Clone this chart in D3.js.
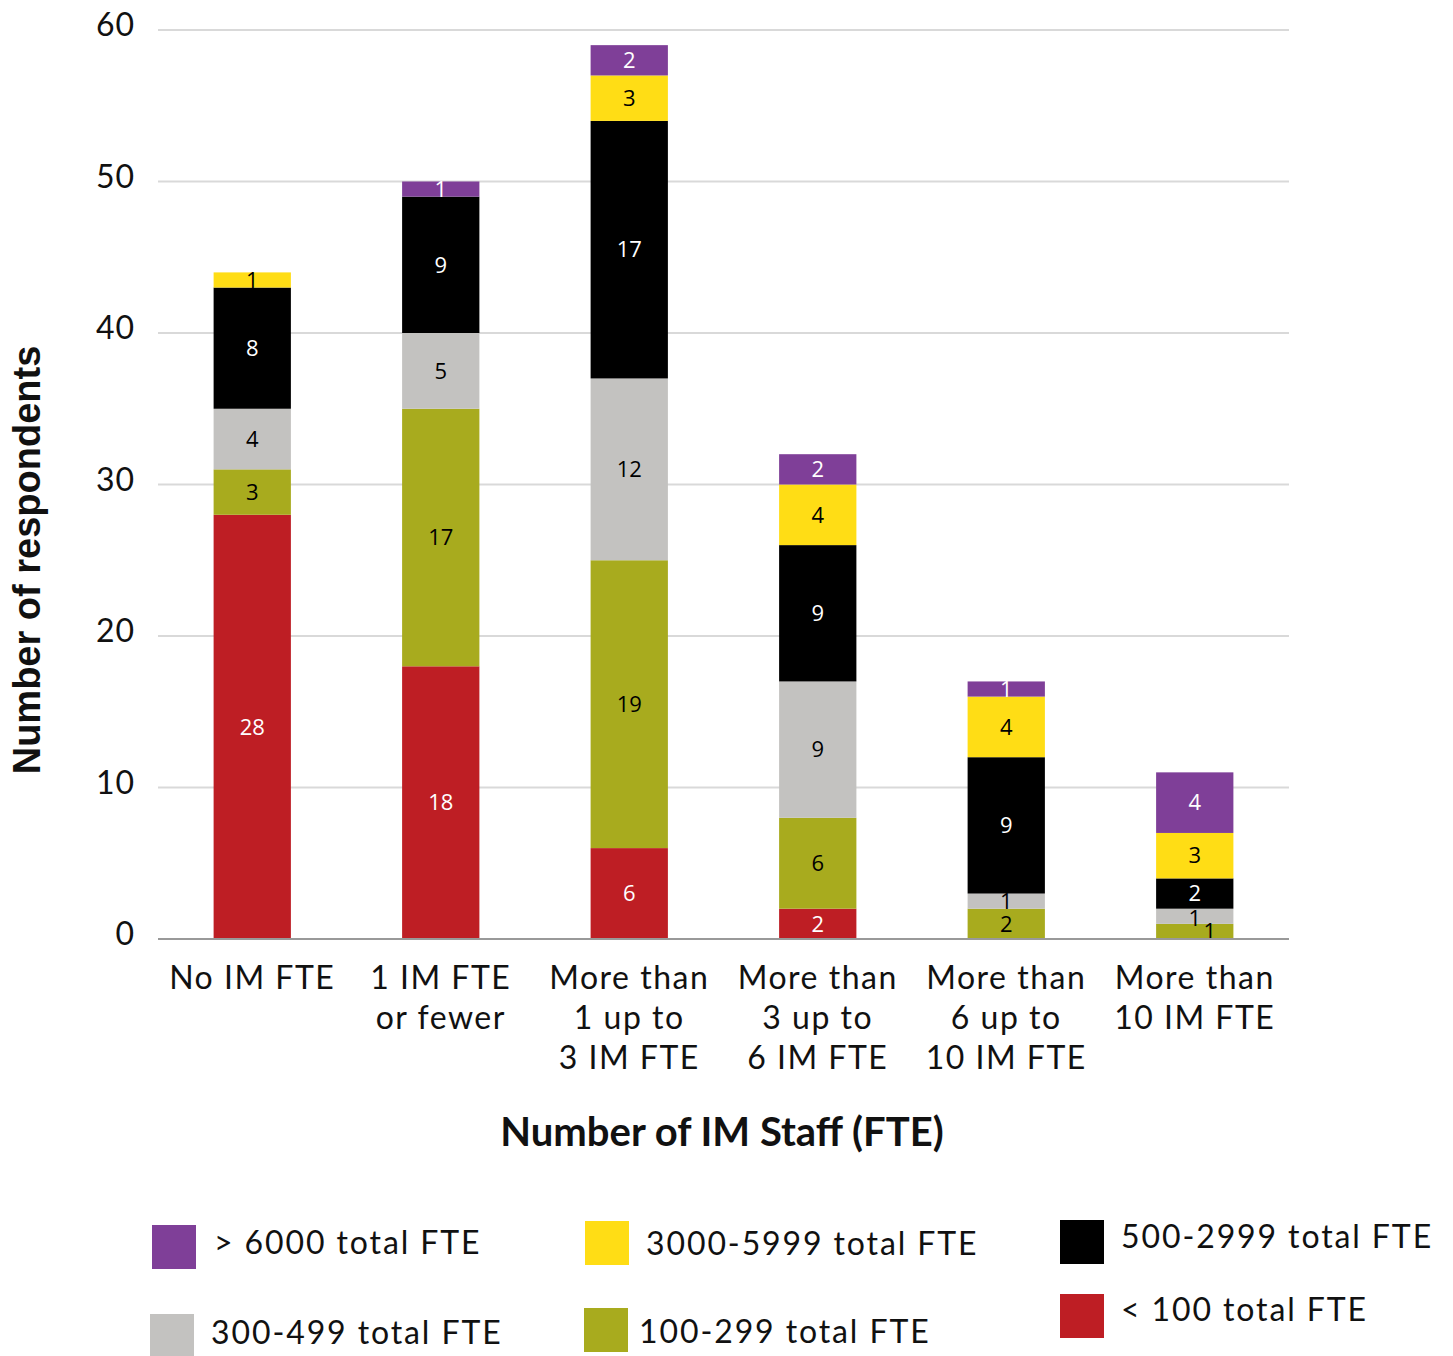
<!DOCTYPE html>
<html>
<head>
<meta charset="utf-8">
<script src="https://cdn.jsdelivr.net/npm/d3@7"></script>
<style>
  html, body { margin: 0; padding: 0; background: #fff; }
  svg { display: block; }
</style>
</head>
<body>
<svg id="chart" width="1453" height="1356"></svg>
<script>
// Staff size groups (x axis), each split by total organisation FTE
const categories = [
  ["No IM FTE"],
  ["1 IM FTE", "or fewer"],
  ["More than", "1 up to", "3 IM FTE"],
  ["More than", "3 up to", "6 IM FTE"],
  ["More than", "6 up to", "10 IM FTE"],
  ["More than", "10 IM FTE"]
];

// Series values, stacked bottom to top
const under100   = [28, 18, 6, 2, 0, 0];
const fte100_299 = [3, 17, 19, 6, 2, 1];
const fte300_499 = [4, 5, 12, 9, 1, 1];
const fte500_2999 = [8, 9, 17, 9, 9, 2];
const fte3000_5999 = [1, 0, 3, 4, 4, 3];
const over6000   = [0, 1, 2, 2, 1, 4];

const seriesNames = ["< 100 total FTE", "100-299 total FTE", "300-499 total FTE",
                     "500-2999 total FTE", "3000-5999 total FTE", "> 6000 total FTE"];
const seriesValues = [under100, fte100_299, fte300_499, fte500_2999, fte3000_5999, over6000];
const seriesColors = ["#be1e24", "#a8ab1e", "#c3c2c0", "#000000", "#ffdd15", "#7f3f98"];
const labelColors  = ["#ffffff", "#000000", "#000000", "#ffffff", "#000000", "#ffffff"];

const yTicks = [0, 10, 20, 30, 40, 50, 60];

(function () {
const svg = d3.select("#chart");
const plotLeft = 158, plotRight = 1289, plotTop = 30, plotBottom = 939;

const keys = categories.map((c, i) => "c" + i);
const x = d3.scaleBand().domain(keys).range([plotLeft, plotRight])
  .paddingInner(0.59).paddingOuter(0.295);
const y = d3.scaleLinear().domain([0, 60]).range([plotBottom, plotTop]);

// Gridlines
svg.append("g").selectAll("line").data(yTicks.filter(t => t > 0)).join("line")
  .attr("x1", plotLeft).attr("x2", plotRight)
  .attr("y1", d => y(d)).attr("y2", d => y(d))
  .attr("stroke", "#d9d9d9").attr("stroke-width", 2);

// Y axis labels
const yAxis = svg.append("g").attr("transform", `translate(${plotLeft},0)`)
  .call(d3.axisLeft(y).tickValues(yTicks).tickSize(0).tickPadding(23));
yAxis.select(".domain").remove();
yAxis.selectAll("text")
  .attr("font-family", "Lato, 'Open Sans', sans-serif")
  .attr("font-size", 32).attr("fill", "#111").attr("dy", "0.28em")
  .attr("letter-spacing", 1)
  .attr("transform", "translate(0,-3)");

// Stacked data
const rows = keys.map((k, i) => {
  const r = { key: k };
  seriesNames.forEach((s, j) => r[s] = seriesValues[j][i]);
  return r;
});
const stack = d3.stack().keys(seriesNames)(rows);

const layers = svg.append("g").selectAll("g").data(stack).join("g")
  .attr("fill", (d, i) => seriesColors[i]);
layers.selectAll("rect").data(d => d.filter(p => p[1] - p[0] > 0)).join("rect")
  .attr("x", d => x(d.data.key))
  .attr("width", x.bandwidth())
  .attr("y", d => y(d[1]))
  .attr("height", d => y(d[0]) - y(d[1]));

// Value labels (the two thin slices at the foot of the last bar are offset)
const labelNudge = { "c5|100-299 total FTE": [15, 0], "c5|300-499 total FTE": [0, 2] };
const nudge = (d, key) => labelNudge[d.data.key + "|" + key] || [0, 0];
stack.forEach((layer, i) => {
  svg.append("g").selectAll("text").data(layer.filter(p => p[1] - p[0] > 0)).join("text")
    .attr("x", d => x(d.data.key) + x.bandwidth() / 2 + nudge(d, layer.key)[0])
    .attr("y", d => (y(d[0]) + y(d[1])) / 2 + nudge(d, layer.key)[1])
    .attr("dy", "0.35em")
    .attr("text-anchor", "middle")
    .attr("font-family", "'Open Sans', 'Noto Sans', sans-serif")
    .attr("font-size", 22)
    .attr("fill", labelColors[i])
    .text(d => d[1] - d[0]);
});

// Baseline
svg.append("line").attr("x1", plotLeft).attr("x2", plotRight)
  .attr("y1", y(0)).attr("y2", y(0))
  .attr("stroke", "#999").attr("stroke-width", 2);

// Category labels
const catG = svg.append("g")
  .attr("font-family", "Lato, 'Open Sans', sans-serif")
  .attr("font-size", 32).attr("fill", "#111").attr("text-anchor", "middle")
  .attr("letter-spacing", 1.5);
categories.forEach((lines, i) => {
  const cx = x(keys[i]) + x.bandwidth() / 2;
  const t = catG.append("text").attr("x", cx).attr("y", 989);
  lines.forEach((ln, j) => t.append("tspan")
    .attr("x", cx).attr("dy", j === 0 ? 0 : 40).text(ln));
});

// Axis titles
svg.append("text").attr("x", 722).attr("y", 1146)
  .attr("text-anchor", "middle")
  .attr("font-family", "Lato, sans-serif").attr("font-weight", "bold")
  .attr("font-size", 40).attr("fill", "#111")
  .text("Number of IM Staff (FTE)");

svg.append("text")
  .attr("transform", "translate(40,560) rotate(-90)")
  .attr("text-anchor", "middle")
  .attr("font-family", "'Liberation Sans', Arial, sans-serif").attr("font-weight", "bold")
  .attr("font-size", 38).attr("fill", "#111")
  .text("Number of respondents");

// Legend
const legendItems = [
  { s: 5, bx: 152, by: 1225, tx: 214, ty: 1243 },
  { s: 4, bx: 585, by: 1221, tx: 646, ty: 1244 },
  { s: 3, bx: 1060, by: 1220, tx: 1121, ty: 1237 },
  { s: 2, bx: 150, by: 1314, tx: 211, ty: 1333 },
  { s: 1, bx: 584, by: 1308, tx: 639, ty: 1332 },
  { s: 0, bx: 1060, by: 1294, tx: 1121, ty: 1310 }
];
const lg = svg.append("g");
lg.selectAll("rect").data(legendItems).join("rect")
  .attr("x", d => d.bx).attr("y", d => d.by)
  .attr("width", 44).attr("height", 44)
  .attr("fill", d => seriesColors[d.s]);
lg.selectAll("text").data(legendItems).join("text")
  .attr("x", d => d.tx).attr("y", d => d.ty).attr("dy", "0.35em")
  .attr("font-family", "Lato, 'Open Sans', sans-serif")
  .attr("font-size", 32).attr("fill", "#111")
  .attr("letter-spacing", 1.9)
  .text(d => seriesNames[d.s]);
})();
</script>
</body>
</html>
